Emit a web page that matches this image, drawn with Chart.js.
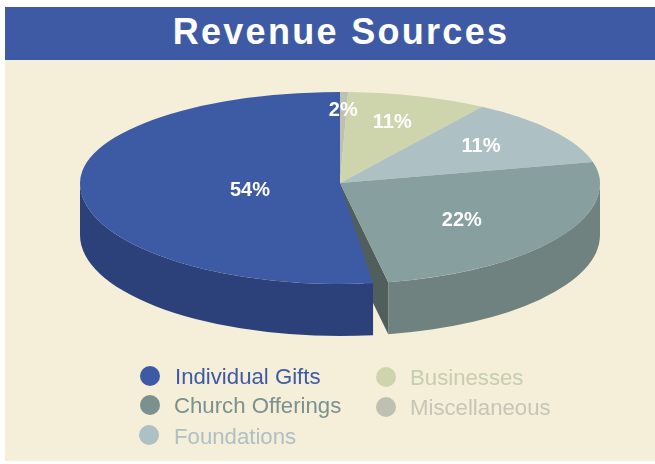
<!DOCTYPE html>
<html><head><meta charset="utf-8">
<style>
html,body{margin:0;padding:0;background:#fff;width:655px;height:464px;overflow:hidden}
#panel{position:absolute;left:5px;top:7px;width:650px;height:454px;background:#f5eed8}
#banner{position:absolute;left:5px;top:7px;width:650px;height:53px;background:#3e5aa4;color:#fff;font:bold 36px "Liberation Sans",Arial,sans-serif;letter-spacing:2.3px;text-align:center;line-height:50px;text-indent:22px}
#wrap{position:absolute;left:0;top:0;width:655px;height:464px}
.li{position:absolute;font:22.2px "Liberation Sans",Arial,sans-serif;line-height:24px;white-space:nowrap}
.dot{position:absolute;width:20px;height:20px;border-radius:50%}
</style>
<script src="https://cdn.jsdelivr.net/npm/chart.js@4"></script>
</head><body>
<div id="panel"></div>
<div id="banner">Revenue Sources</div>
<div id="wrap"><canvas id="c" width="655" height="464"></canvas></div>
<div id="legend"></div>
<script>
// Slices run clockwise from 12 o'clock.
const sliceNames = ['Miscellaneous','Businesses','Foundations','Church Offerings','(gap)','Individual Gifts'];
// Visible extent of each slice as measured on the picture, % of the turn.
const sliceExtent = [0.5, 8.7, 12.08, 25.75, 0.94, 52.03];
// Figures printed on the slices.
const printedLabels = ['2%','11%','11%','22%','','54%'];
const topColors  = ['#bfc0b4','#ced4ac','#adc0c4','#879f9e','rgba(0,0,0,0)','#3d5aa5'];
const wallColors = ['#9a9b90','#a6ab8b','#8b9b9e','#6f8280','rgba(0,0,0,0)','#2c4179'];
const legendOrder = ['Individual Gifts','Church Offerings','Foundations','Businesses','Miscellaneous'];
const legendText = ['#3e5aa5','#7a918f','#adc0c4','#c6ceb0','#c4c6b8'];
const legendDots = ['#3d5aa5','#7a918f','#adc0c4','#ced4ac','#bfc0b4'];

// Drawing geometry
const G = {cx:340, cy:183, rx:260, ryUp:91, ryDown:101, depth:52, cutColor:'#505f5b', cutSlice:3};
// label placement: radial fraction and angular nudge (degrees) per slice
const labelR = [0.813,0.71,0.684,0.589,0,0.353];
const labelNudge = [0,-1,-2.4,4.3,0,-7.6];

const pie3d = {
  id:'pie3d',
  beforeDatasetsDraw(chart){
    const ctx=chart.ctx, arcs=chart.getDatasetMeta(0).data, {cx,cy,rx,ryUp,ryDown,depth}=G;
    ctx.save();
    // radial cut face of the slice that ends at the gap
    const e=arcs[G.cutSlice].endAngle;
    const px=cx+rx*Math.cos(e), py=cy+ryDown*Math.sin(e);
    ctx.fillStyle=G.cutColor;
    ctx.beginPath();ctx.moveTo(cx,cy);ctx.lineTo(px,py);ctx.lineTo(px,py+depth);ctx.lineTo(cx,cy+depth);ctx.closePath();ctx.fill();
    // outer walls of the front half
    arcs.forEach((a,i)=>{
      const s=Math.max(a.startAngle,0), t=Math.min(a.endAngle,Math.PI);
      if(t<=s||!printedLabels[i]) return;
      ctx.fillStyle=wallColors[i];
      ctx.beginPath();
      ctx.ellipse(cx,cy,rx,ryDown,0,s,t);
      ctx.ellipse(cx,cy+depth,rx,ryDown,0,t,s,true);
      ctx.closePath();ctx.fill();
    });
    ctx.restore();
    // Top face: the library's own arc elements, under a squash transform
    const R=arcs[0].outerRadius, X=arcs[0].x, Y=arcs[0].y;
    [ryUp,ryDown].forEach((ry,k)=>{
      ctx.save();
      ctx.beginPath();
      if(k===0) ctx.rect(0,0,chart.width,cy); else ctx.rect(0,cy,chart.width,chart.height-cy);
      ctx.clip();
      ctx.translate(cx,cy);ctx.scale(rx/R,ry/R);ctx.translate(-X,-Y);
      arcs.forEach(a=>a.draw(ctx));
      ctx.restore();
    });
    return false; // top faces already drawn
  },
  afterDraw(chart){
    const ctx=chart.ctx, arcs=chart.getDatasetMeta(0).data, {cx,cy,rx,ryUp,ryDown}=G;
    ctx.save();
    ctx.font='bold 20px "Liberation Sans",Arial,sans-serif';
    ctx.fillStyle='#fff';ctx.textAlign='center';ctx.textBaseline='middle';
    arcs.forEach((a,i)=>{
      if(!printedLabels[i]) return;
      const m=(a.startAngle+a.endAngle)/2+labelNudge[i]*Math.PI/180;
      const sn=Math.sin(m), ry=sn<0?ryUp:ryDown;
      ctx.fillText(printedLabels[i],cx+rx*labelR[i]*Math.cos(m),cy+ry*labelR[i]*sn+1);
    });
    ctx.restore();
  }
};

new Chart(document.getElementById('c'),{
  type:'pie',
  data:{labels:sliceNames,datasets:[{data:sliceExtent,backgroundColor:topColors,borderWidth:0}]},
  options:{responsive:false,animation:false,layout:{padding:0},
    plugins:{legend:{display:false},tooltip:{enabled:false}}},
  plugins:[pie3d]
});

// Legend
const legendSpots=[[140,366,175,365],[140,395,174,394],[139,425,174,425],[376,367,410,366],[376,397,410,396]];
const L=document.getElementById('legend');
legendOrder.forEach((n,i)=>{
  const p=legendSpots[i];
  const d=document.createElement('div');d.className='dot';d.style.cssText=`left:${p[0]}px;top:${p[1]}px;background:${legendDots[i]}`;L.appendChild(d);
  const t=document.createElement('div');t.className='li';t.textContent=n;t.style.cssText=`left:${p[2]}px;top:${p[3]}px;color:${legendText[i]}`;L.appendChild(t);
});
</script>
</body></html>
